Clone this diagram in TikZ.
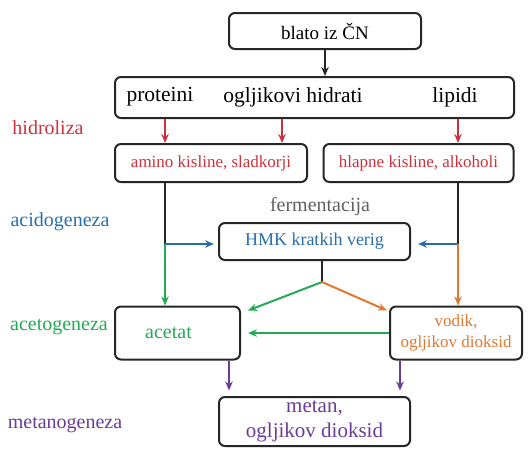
\documentclass[tikz,border=0pt]{standalone}
\usepackage{fontspec}
\setmainfont{Liberation Serif}
\usetikzlibrary{calc,arrows.meta}

\definecolor{rdeca}{RGB}{205,50,60}
\definecolor{modra}{RGB}{40,110,175}
\definecolor{zelena}{RGB}{35,170,85}
\definecolor{oranzna}{RGB}{225,120,50}
\definecolor{vijolicna}{RGB}{105,60,150}
\definecolor{siva}{RGB}{95,95,95}

\newcommand{\velik}{\fontsize{20}{23}\selectfont}
\newcommand{\srednji}{\fontsize{17}{21}\selectfont}

\tikzset{
  okvir/.style={draw=black!85, line width=2pt, rounded corners=6pt, align=center, inner sep=2pt, font=\srednji},
  puscica/.style={line width=2pt, -{Stealth[length=9pt,width=7.5pt]}},
  crta/.style={line width=2pt, draw=black!85},
  faza/.style={font=\velik},
}

\begin{document}
\begin{tikzpicture}[x=1pt, y=-1pt]
  \useasboundingbox (0,0) rectangle (529,448);
  \node[okvir, font=\fontsize{19}{22}\selectfont, minimum width=192pt, minimum height=36pt] (blato) at (325,31) {blato iz ČN};
  \node[okvir, minimum width=399pt, minimum height=41pt] (snovi) at ($(blato) + (-10.5, 66.5)$) {};
  \node[faza, font=\fontsize{21.5}{24}\selectfont] (proteini) at ($(blato) + (-165, 66)$) {proteini};
  \node[faza, font=\fontsize{21.5}{24}\selectfont] (ogljikovi) at ($(blato) + (-32, 66)$) {ogljikovi hidrati};
  \node[faza, font=\fontsize{21.5}{24}\selectfont] (lipidi) at ($(blato) + (130, 66)$) {lipidi};
  \node[okvir, text=rdeca, minimum width=192pt, minimum height=38pt] (amino) at ($(blato) + (-114, 132)$) {amino kisline, sladkorji};
  \node[okvir, text=rdeca, minimum width=190pt, minimum height=38pt] (hlapne) at ($(blato) + (93.5, 132)$) {hlapne kisline, alkoholi};
  \node[faza, text=siva] (fermentacija) at ($(blato) + (-5, 176)$) {fermentacija};
  \node[okvir, font=\fontsize{18}{21}\selectfont, text=modra, minimum width=191pt, minimum height=37pt] (hmk) at ($(blato) + (-10.5, 210.5)$) {HMK kratkih verig};
  \node[okvir, font=\velik, text=zelena, minimum width=125pt, minimum height=53pt] (acetat) at ($(blato) + (-147.5, 302)$) {acetat\hspace*{18pt}};
  \node[okvir, text=oranzna, minimum width=132pt, minimum height=53pt] (vodik) at ($(blato) + (131, 302)$) {vodik,\\ogljikov dioksid};
  \node[okvir, font=\fontsize{21}{25}\selectfont, text=vijolicna, minimum width=191pt, minimum height=49pt] (metan) at ($(blato) + (-10.5, 390.5)$) {metan,\\ogljikov dioksid};

  % faze
  \node[faza, text=rdeca] (hidroliza) at ($(blato) + (-277, 97)$) {hidroliza};
  \node[faza, text=modra] (acidogeneza) at ($(blato) + (-265, 191)$) {acidogeneza};
  \node[faza, text=zelena] (acetogeneza) at ($(blato) + (-266, 296)$) {acetogeneza};
  \node[faza, text=vijolicna] (metanogeneza) at ($(blato) + (-260, 394)$) {metanogeneza};

  \coordinate (levo) at (165,244);
  \coordinate (desno) at (458,244);
  \coordinate (sredina) at ($(ogljikovi.south) + (-11, 0)$);
  \coordinate (razcep) at (322,282);

  \draw[puscica, black!85] (blato.south) -- (blato.south |- snovi.north);
  \draw[puscica, rdeca] (snovi.south -| levo) -- (amino.north -| levo);
  \draw[puscica, rdeca] (snovi.south -| sredina) -- (amino.north -| sredina);
  \draw[puscica, rdeca] (snovi.south -| desno) -- (hlapne.north -| desno);
  \draw[crta] (amino.south -| levo) -- (levo);
  \draw[crta] (hlapne.south -| desno) -- (desno);
  \draw[puscica, modra, shorten >=4pt] (levo) -- (hmk.west |- levo);
  \draw[puscica, modra, shorten >=7pt] (desno) -- (hmk.east |- desno);
  \draw[puscica, zelena] (levo) -- (acetat.north -| levo);
  \draw[puscica, oranzna] (desno) -- (vodik.north -| desno);
  \draw[crta] (hmk.south -| razcep) -- (razcep);
  \draw[puscica, zelena] (razcep) -- ([xshift=7pt, yshift=-5pt]acetat.north east);
  \draw[puscica, oranzna] (razcep) -- ([xshift=-2pt, yshift=-5pt]vodik.north west);
  \draw[puscica, zelena, shorten >=7pt] (vodik.west) -- (acetat.east);
  \draw[puscica, vijolicna] ([xshift=-12pt]acetat.south east) -- ++(0,30);
  \draw[puscica, vijolicna] ([xshift=11pt]vodik.south west) -- ++(0,30);
\end{tikzpicture}
\end{document}
